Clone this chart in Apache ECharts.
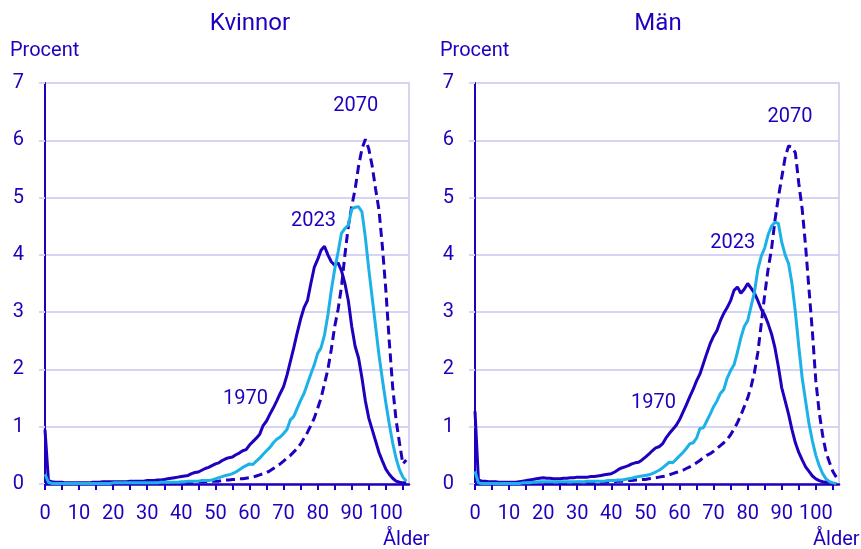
<!DOCTYPE html>
<html>
<head>
<meta charset="utf-8">
<script src="https://cdn.jsdelivr.net/npm/echarts@6/dist/echarts.min.js"></script>
<style>html,body{margin:0;padding:0;background:#fff}#c{width:861px;height:549px}</style>
</head>
<body>
<div id="c"></div>
<script>
// Ages 0..106
var ages = [];
for (var a = 0; a <= 106; a++) ages.push(a);

var xTicks = [0,5,10,15,20,25,30,35,40,45,50,55,60,65,70,75,80,85,90,95,100,105];
var xLabels = [0,10,20,30,40,50,60,70,80,90,100];
var yTicks = [0,1,2,3,4,5,6,7];
var panelTitles = ['Kvinnor', 'Män'];
var seriesNames = ['1970', '2023', '2070'];

// Kvinnor
var k1970 = [
0.95,0.06,0.04,0.03,0.03,0.03,0.02,0.02,0.02,0.02,
0.02,0.02,0.02,0.02,0.03,0.03,0.03,0.04,0.04,0.04,
0.04,0.04,0.04,0.04,0.04,0.05,0.05,0.05,0.05,0.05,
0.06,0.06,0.06,0.07,0.07,0.08,0.09,0.10,0.11,0.12,
0.13,0.14,0.15,0.18,0.20,0.21,0.24,0.27,0.29,0.32,
0.35,0.37,0.41,0.44,0.46,0.47,0.51,0.54,0.58,0.60,
0.68,0.74,0.80,0.87,1.02,1.10,1.22,1.33,1.45,1.58,
1.70,1.90,2.14,2.38,2.64,2.88,3.08,3.20,3.50,3.78,
3.92,4.08,4.15,4.00,3.88,3.82,3.86,3.72,3.50,3.20,
2.75,2.40,2.20,1.85,1.45,1.15,0.95,0.75,0.55,0.40,
0.26,0.17,0.10,0.05,0.03,0.02,0.02];
var k2023 = [
0.17,0.03,0.01,0.01,0.01,0.01,0.01,0.01,0.01,0.01,
0.01,0.01,0.01,0.01,0.01,0.01,0.01,0.01,0.01,0.01,
0.02,0.02,0.02,0.02,0.02,0.02,0.02,0.02,0.02,0.02,
0.02,0.02,0.02,0.02,0.03,0.03,0.03,0.03,0.03,0.03,
0.04,0.04,0.05,0.05,0.05,0.05,0.06,0.06,0.06,0.07,
0.09,0.11,0.13,0.15,0.16,0.18,0.21,0.25,0.29,0.32,
0.35,0.34,0.40,0.45,0.52,0.58,0.64,0.72,0.78,0.82,
0.88,0.95,1.12,1.18,1.32,1.46,1.58,1.75,1.92,2.08,
2.28,2.38,2.60,2.95,3.38,3.75,4.05,4.38,4.46,4.52,
4.80,4.83,4.84,4.75,4.30,3.75,3.25,2.75,2.25,1.82,
1.42,1.05,0.72,0.45,0.25,0.12,0.05];
var k2070 = [
0.05,0.01,0.01,0.01,0.01,0.01,0.01,0.01,0.01,0.01,
0.01,0.01,0.01,0.01,0.01,0.01,0.01,0.01,0.01,0.01,
0.01,0.01,0.01,0.01,0.01,0.01,0.01,0.01,0.01,0.01,
0.01,0.01,0.01,0.02,0.02,0.02,0.02,0.02,0.02,0.02,
0.02,0.03,0.03,0.03,0.03,0.04,0.04,0.04,0.04,0.05,
0.05,0.05,0.06,0.07,0.07,0.08,0.08,0.09,0.09,0.10,
0.11,0.12,0.14,0.16,0.18,0.20,0.23,0.27,0.31,0.35,
0.40,0.45,0.50,0.56,0.62,0.70,0.80,0.90,1.02,1.15,
1.32,1.50,1.75,2.00,2.35,2.75,3.05,3.45,4.00,4.50,
4.85,5.15,5.55,5.85,6.02,5.85,5.55,5.15,4.78,4.14,
3.39,2.50,1.70,1.12,0.72,0.35,0.42];

// Män
var m1970 = [
1.27,0.07,0.05,0.05,0.04,0.04,0.04,0.03,0.03,0.03,
0.03,0.03,0.03,0.04,0.05,0.06,0.07,0.08,0.09,0.10,
0.11,0.10,0.10,0.09,0.09,0.09,0.10,0.10,0.11,0.11,
0.12,0.12,0.12,0.12,0.13,0.13,0.14,0.15,0.16,0.17,
0.18,0.21,0.25,0.28,0.30,0.32,0.35,0.37,0.38,0.42,
0.47,0.52,0.58,0.63,0.65,0.70,0.80,0.88,0.95,1.02,
1.12,1.25,1.38,1.52,1.65,1.80,1.92,2.10,2.28,2.45,
2.58,2.68,2.85,2.98,3.08,3.20,3.38,3.44,3.33,3.40,
3.50,3.42,3.33,3.20,3.05,2.95,2.80,2.62,2.38,2.05,
1.68,1.45,1.22,0.95,0.72,0.55,0.42,0.30,0.22,0.14,
0.09,0.06,0.04,0.03,0.02,0.01,0.01];
var m2023 = [
0.22,0.02,0.01,0.01,0.01,0.01,0.01,0.01,0.01,0.01,
0.01,0.01,0.01,0.01,0.02,0.02,0.02,0.03,0.03,0.04,
0.04,0.04,0.04,0.04,0.04,0.04,0.04,0.04,0.04,0.04,
0.04,0.04,0.04,0.05,0.05,0.05,0.05,0.05,0.05,0.06,
0.06,0.06,0.07,0.07,0.08,0.09,0.10,0.12,0.13,0.14,
0.15,0.16,0.18,0.21,0.24,0.28,0.33,0.38,0.37,0.43,
0.49,0.55,0.62,0.70,0.72,0.80,0.97,0.98,1.10,1.22,
1.35,1.45,1.58,1.65,1.85,1.98,2.08,2.30,2.55,2.75,
2.85,3.10,3.35,3.75,3.98,4.12,4.35,4.50,4.57,4.55,
4.22,4.00,3.85,3.50,3.00,2.40,1.85,1.45,1.05,0.75,
0.50,0.32,0.18,0.09,0.04,0.02,0.01];
var m2070 = [
0.05,0.01,0.01,0.01,0.01,0.01,0.01,0.01,0.01,0.01,
0.01,0.01,0.01,0.01,0.01,0.01,0.02,0.02,0.02,0.02,
0.02,0.02,0.02,0.02,0.02,0.02,0.02,0.02,0.02,0.02,
0.03,0.03,0.03,0.03,0.03,0.03,0.03,0.03,0.03,0.04,
0.04,0.04,0.05,0.05,0.05,0.06,0.06,0.07,0.07,0.08,
0.08,0.09,0.10,0.11,0.12,0.13,0.14,0.16,0.18,0.20,
0.22,0.24,0.27,0.30,0.33,0.37,0.41,0.46,0.50,0.53,
0.57,0.62,0.67,0.72,0.78,0.86,0.96,1.07,1.20,1.35,
1.50,1.70,1.95,2.30,2.80,3.30,3.75,4.10,4.60,5.00,
5.35,5.70,5.90,5.88,5.78,5.25,4.80,4.15,3.40,2.65,
1.80,1.25,0.85,0.55,0.38,0.22,0.12];

var DARK = '#1e00be', CYAN = '#1cb2e8', GRID = '#d6d4f3';
var FONT = 'Roboto';

function pairs(vals) { return ages.map(function (a, i) { return [a, vals[i]]; }); }

var panels = [
  { left: 45, data: [k1970, k2023, k2070],
    labels: [[58.8, 1.48], [78.8, 4.59], [91.2, 6.6]] },
  { left: 475, data: [m1970, m2023, m2070],
    labels: [[52.4, 1.41], [75.6, 4.2], [92.4, 6.4]] }
];

var option = {
  animation: false,
  textStyle: { fontFamily: FONT },
  grid: [], xAxis: [], yAxis: [], series: [], graphic: []
};

panels.forEach(function (p, gi) {
  option.grid.push({ left: p.left, top: 83, width: 364, height: 401, show: true,
    borderColor: GRID, borderWidth: 2, containLabel: false });
  option.xAxis.push({
    gridIndex: gi, type: 'value', min: 0, max: 106.8,
    axisLine: { show: true, lineStyle: { color: DARK, width: 2.5 } },
    axisTick: { show: true, length: 6, lineStyle: { color: DARK, width: 2 }, customValues: xTicks },
    axisLabel: { color: DARK, fontSize: 20, fontFamily: FONT, margin: 20, customValues: xLabels },
    splitLine: { show: false }
  });
  option.yAxis.push({
    gridIndex: gi, type: 'value', min: 0, max: 7, interval: 1,
    axisLine: { show: true, lineStyle: { color: DARK, width: 2 } },
    axisTick: { show: true, length: 6, lineStyle: { color: GRID, width: 2 } },
    axisLabel: { color: DARK, fontSize: 20, fontFamily: FONT, margin: 21,
      formatter: function (v) { return yTicks.indexOf(v) >= 0 ? String(v) : ''; } },
    splitLine: { show: true, lineStyle: { color: GRID, width: 2 } }
  });
  var styles = [
    { color: DARK, width: 3, type: 'solid' },
    { color: CYAN, width: 3, type: 'solid' },
    { color: DARK, width: 3, type: [9, 5] }
  ];
  p.data.forEach(function (vals, si) {
    option.series.push({
      name: seriesNames[si], type: 'line', xAxisIndex: gi, yAxisIndex: gi,
      data: pairs(vals), showSymbol: false, symbol: 'none',
      lineStyle: styles[si], z: si === 1 ? 3 : 2,
      markPoint: {
        symbol: 'circle', symbolSize: 0, silent: true,
        label: { show: true, position: 'inside', color: DARK, fontSize: 20, fontFamily: FONT,
          formatter: seriesNames[si] },
        data: [{ coord: p.labels[si] }]
      }
    });
  });
});

option.graphic = [
  { type: 'text', style: { text: panelTitles[0], font: '24px Roboto', fill: DARK, x: 250, y: 24, textAlign: 'center', textVerticalAlign: 'middle' } },
  { type: 'text', style: { text: panelTitles[1], font: '24px Roboto', fill: DARK, x: 658, y: 24, textAlign: 'center', textVerticalAlign: 'middle' } },
  { type: 'text', style: { text: 'Procent', font: '20px Roboto', fill: DARK, x: 10, y: 51, textVerticalAlign: 'middle' } },
  { type: 'text', style: { text: 'Procent', font: '20px Roboto', fill: DARK, x: 440, y: 51, textVerticalAlign: 'middle' } },
  { type: 'text', style: { text: 'Ålder', font: '20px Roboto', fill: DARK, x: 383, y: 540, textVerticalAlign: 'middle' } },
  { type: 'text', style: { text: 'Ålder', font: '20px Roboto', fill: DARK, x: 813, y: 540, textVerticalAlign: 'middle' } }
];

var chart = echarts.init(document.getElementById('c'), null, { renderer: 'canvas' });
chart.setOption(option);
</script>
</body>
</html>
